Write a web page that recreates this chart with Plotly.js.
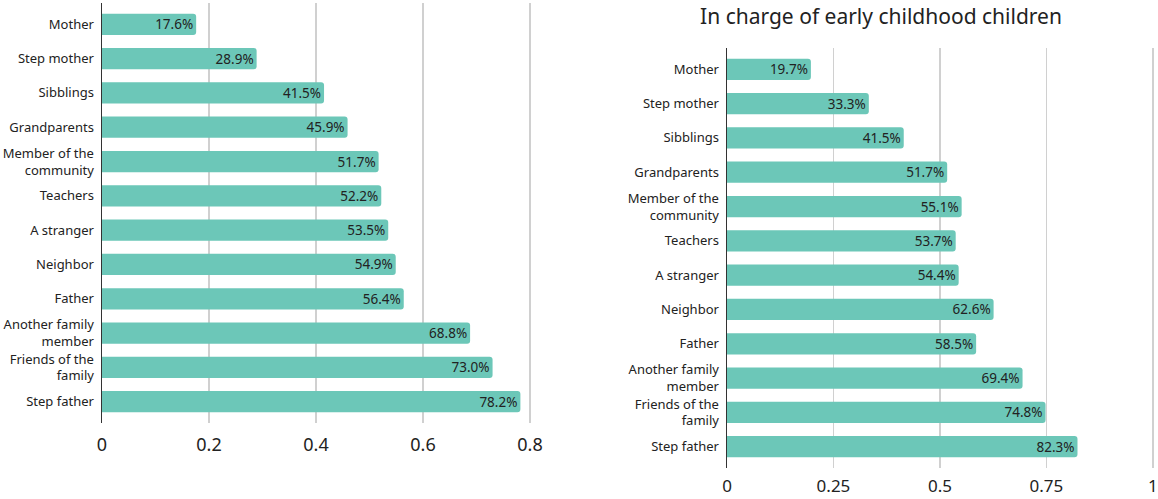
<!DOCTYPE html>
<html>
<head>
<meta charset="utf-8">
<script src="https://cdn.plot.ly/plotly-3.0.1.min.js"></script>
<style>html,body{margin:0;padding:0;background:#fff}#chart{width:1158px;height:499px}</style>
</head>
<body>
<div id="chart"></div>
<script>
const categories = ["Mother","Step mother","Sibblings","Grandparents","Member of the<br>community","Teachers","A stranger","Neighbor","Father","Another family<br>member","Friends of the<br>family","Step father"];
const leftValues = [0.176,0.289,0.415,0.459,0.517,0.522,0.535,0.549,0.564,0.688,0.730,0.782];
const rightValues = [0.197,0.333,0.415,0.517,0.551,0.537,0.544,0.626,0.585,0.694,0.748,0.823];
const rightTitle = "In charge of early childhood children";
const leftTicks = [0,0.2,0.4,0.6,0.8];
const leftTickText = ["0","0.2","0.4","0.6","0.8"];
const rightTicks = [0,0.25,0.5,0.75,1];
const rightTickText = ["0","0.25","0.5","0.75","1"];

const FONT = "Noto Sans, Open Sans, sans-serif";
const barColor = "#6CC7B8";

function barTrace(vals, xa, ya){
  return {
    type:"bar", orientation:"h", x:vals, y:categories, xaxis:xa, yaxis:ya,
    marker:{color:barColor, cornerradius:3, line:{width:0}},
    width:0.62,
    texttemplate:"%{x:.1%}", textposition:"inside", insidetextanchor:"end",
    textfont:{family:FONT, size:13.5, color:"#222"},
    constraintext:"none", hoverinfo:"skip", showlegend:false, cliponaxis:false
  };
}

const W=1158, H=499;
function xaxisCfg(l, r, range, ticks, txt, standoff, fs){
  return {
    domain:[l/W, r/W], range:range, tickvals:ticks, ticktext:txt,
    showgrid:true, gridcolor:"#d0d0d0", gridwidth:1.5,
    zeroline:false, showline:false, ticks:"", 
    tickfont:{family:FONT, size:fs, color:"#222"},
    ticklabelstandoff:standoff, ticklabeloverflow:"allow", automargin:false, fixedrange:true
  };
}
function yaxisCfg(top, bottom, anchor){
  return {
    domain:[1-bottom/H, 1-top/H], range:[11.62,-0.62], type:"category",
    showgrid:false, zeroline:false, showline:true, linecolor:"#333", linewidth:1.5,
    ticks:"", tickfont:{family:FONT, size:13, color:"#222"},
    ticklabelstandoff:4, automargin:false, anchor:anchor, fixedrange:true
  };
}

const layout = {
  width:W, height:H, margin:{l:0,r:0,t:0,b:0},
  paper_bgcolor:"#fff", plot_bgcolor:"#fff",
  font:{family:FONT, color:"#222"},
  showlegend:false,
  xaxis:xaxisCfg(102, 545, [0,0.828], leftTicks, leftTickText, 9, 18),
  yaxis:yaxisCfg(3, 423, "x"),
  xaxis2:xaxisCfg(727, 1155, [0,1.005], rightTicks, rightTickText, 6, 17),
  yaxis2:yaxisCfg(48, 468, "x2"),
  title:{text:rightTitle, font:{family:FONT, size:21, color:"#222"},
         x:881/W, xref:"paper", xanchor:"center", y:1-17/H, yref:"container", yanchor:"middle"}
};
layout.xaxis.anchor="y";
layout.xaxis2.anchor="y2";

Plotly.newPlot("chart", [barTrace(leftValues,"x","y"), barTrace(rightValues,"x2","y2")], layout, {displayModeBar:false, staticPlot:true});
</script>
</body>
</html>
